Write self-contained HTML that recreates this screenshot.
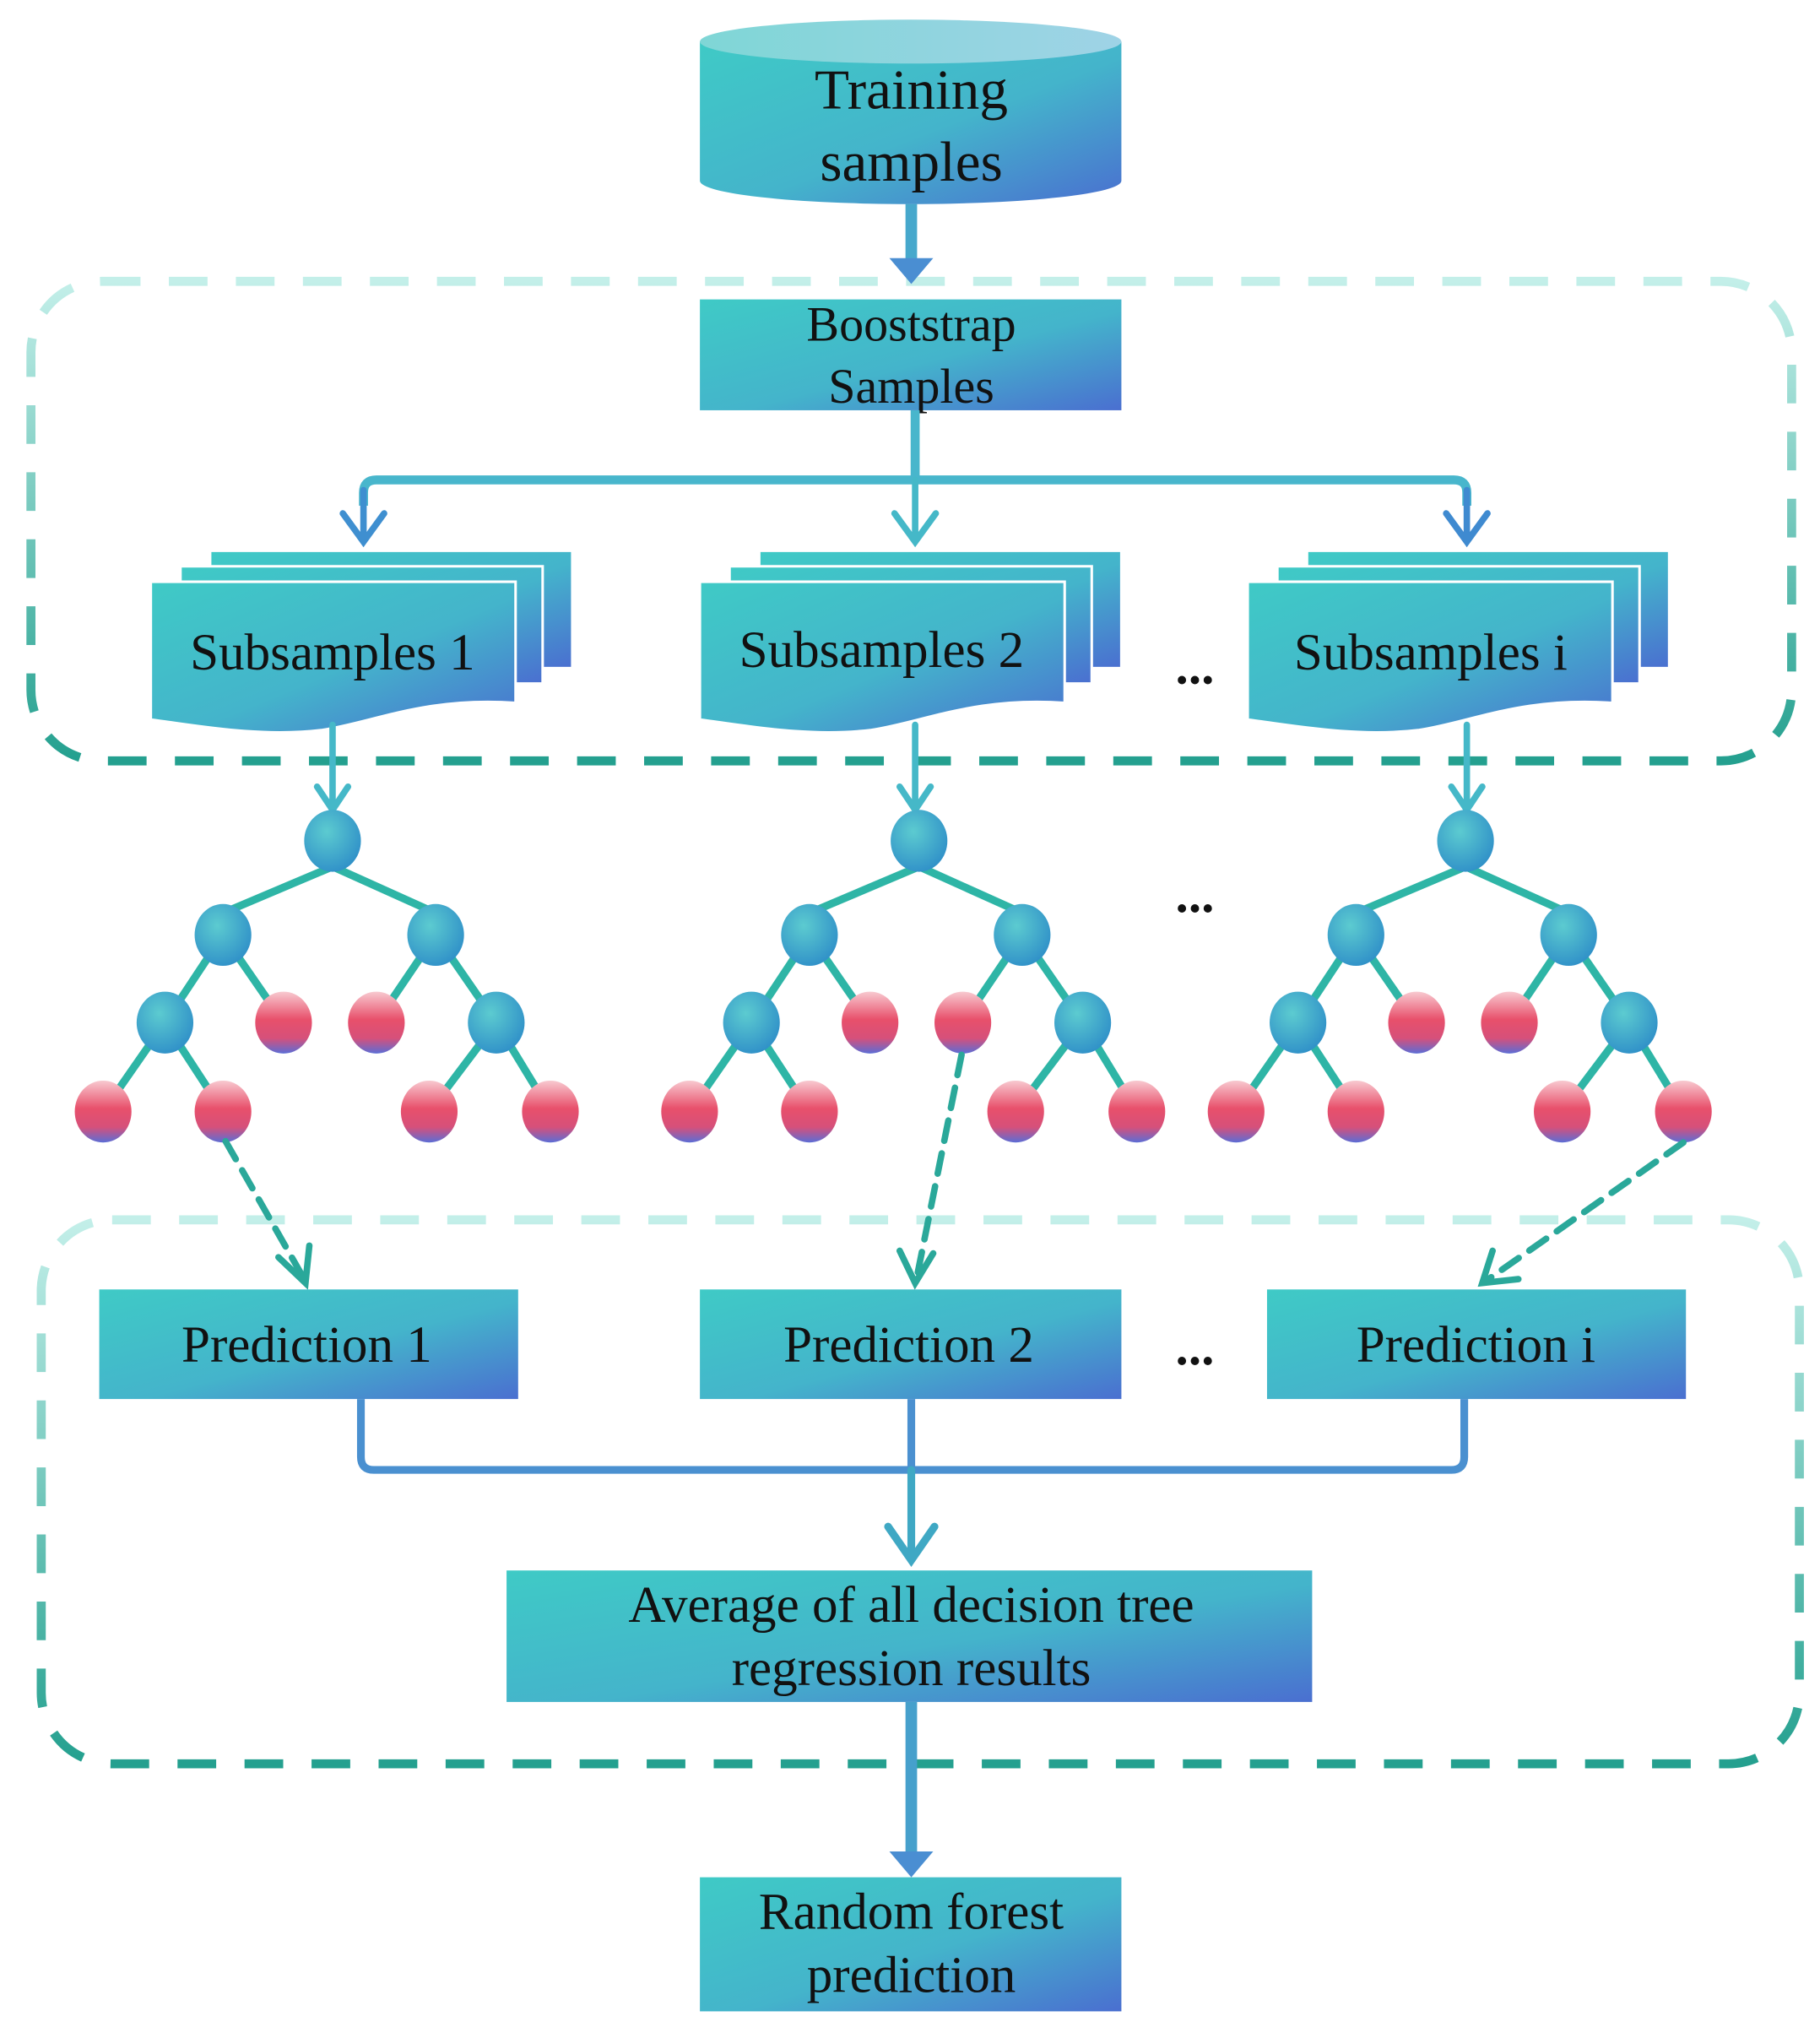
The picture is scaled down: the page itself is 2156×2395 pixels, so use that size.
<!DOCTYPE html>
<html><head><meta charset="utf-8"><style>
html,body{margin:0;padding:0;background:#fff}
svg{display:block}
text{font-family:"Liberation Serif",serif;fill:#111;text-anchor:middle}
</style></head><body>
<svg width="2156" height="2395" viewBox="0 0 1412 1568" xmlns="http://www.w3.org/2000/svg">
<defs>
<linearGradient id="g" x1="0" y1="0" x2="1" y2="1">
<stop offset="0" stop-color="#3fcac6"/><stop offset="0.55" stop-color="#44b4cb"/><stop offset="1" stop-color="#4a6fd0"/></linearGradient>
<linearGradient id="cyl" x1="0" y1="0" x2="1" y2="0">
<stop offset="0" stop-color="#7fd6d6"/><stop offset="1" stop-color="#9fd3e6"/></linearGradient>
<radialGradient id="bn" cx="0.4" cy="0.35" r="0.7">
<stop offset="0" stop-color="#5ccbd0"/><stop offset="1" stop-color="#2f8fc8"/></radialGradient>
<linearGradient id="rn" x1="0" y1="0" x2="0" y2="1">
<stop offset="0" stop-color="#f8c9d0"/><stop offset="0.45" stop-color="#e8506b"/><stop offset="0.75" stop-color="#d6507a"/><stop offset="1" stop-color="#5b6dd6"/></linearGradient>
<linearGradient id="dash" x1="0" y1="0" x2="0" y2="1">
<stop offset="0" stop-color="#c3efe9"/><stop offset="1" stop-color="#24a08f"/></linearGradient>
</defs>

<rect x="24" y="218" width="1366" height="372" rx="55" fill="none" stroke="url(#dash)" stroke-width="7" stroke-dasharray="30 22"/>
<rect x="32" y="946" width="1364" height="422" rx="55" fill="none" stroke="url(#dash)" stroke-width="7" stroke-dasharray="30 22"/>

<path d="M543,32 V140 A163,18 0 0 0 870,140 V32 Z" fill="url(#g)"/>
<ellipse cx="706.5" cy="32" rx="163.5" ry="17" fill="url(#cyl)"/>
<text x="707" y="84" font-size="44">Training</text>
<text x="707" y="140" font-size="44">samples</text>

<line x1="707" y1="158" x2="707" y2="205" stroke="#46a8cc" stroke-width="9"/>
<path d="M690,200 L724,200 L707,220 Z" fill="#4a8ed2"/>

<rect x="543" y="232" width="327" height="86" fill="url(#g)"/>
<text x="707" y="264" font-size="38">Booststrap</text>
<text x="707" y="312" font-size="38">Samples</text>

<path d="M710,318 V372 M282,392 V382 Q282,372 292,372 H1128 Q1138,372 1138,382 V392" fill="none" stroke="#48b6cc" stroke-width="7"/>
<g fill="none" stroke-width="5" stroke-linecap="round">
<path d="M282,380 V420 M266,398 L282,420 L298,398" stroke="#3f8fd0"/>
<path d="M710,372 V420 M694,398 L710,420 L726,398" stroke="#45b8c8"/>
<path d="M1138,380 V420 M1122,398 L1138,420 L1154,398" stroke="#3f8ad0"/>
</g>

<g id="st">
<path d="M163,427 H444 V518 H163 Z" fill="url(#g)" stroke="#fff" stroke-width="2"/>
<path d="M140,439 H421 V530 H140 Z" fill="url(#g)" stroke="#fff" stroke-width="2"/>
<path d="M117,451 H400 V545 C330,540 290,560 250,566 C200,572 150,562 117,558 Z" fill="url(#g)" stroke="#fff" stroke-width="2"/>
</g>
<use href="#st" x="426"/>
<use href="#st" x="851"/>
<text x="258" y="519" font-size="40">Subsamples 1</text>
<text x="684" y="517" font-size="40">Subsamples 2</text>
<text x="1110" y="519" font-size="40">Subsamples i</text>
<text x="927" y="530" font-size="40" font-weight="bold">...</text>

<g fill="none" stroke="#45b8c8" stroke-width="5" stroke-linecap="round">
<path d="M258,562 V628 M246,610 L258,628 L270,610"/>
<path d="M710,562 V628 M698,610 L710,628 L722,610"/>
<path d="M1138,562 V628 M1126,610 L1138,628 L1150,610"/>
</g>

<g id="tree" stroke="#2eb5a6" stroke-width="6" fill="none">
<path d="M258,672 L173,708 M258,672 L338,708"/>
<path d="M173,725 L128,793 M173,725 L220,793 M338,725 L292,793 M338,725 L385,793"/>
<path d="M128,793 L80,862 M128,793 L173,862 M385,793 L333,862 M385,793 L427,862"/>
<g stroke="none">
<ellipse cx="258" cy="652" rx="22" ry="24" fill="url(#bn)"/>
<ellipse cx="173" cy="725" rx="22" ry="24" fill="url(#bn)"/>
<ellipse cx="338" cy="725" rx="22" ry="24" fill="url(#bn)"/>
<ellipse cx="128" cy="793" rx="22" ry="24" fill="url(#bn)"/>
<ellipse cx="385" cy="793" rx="22" ry="24" fill="url(#bn)"/>
<ellipse cx="220" cy="793" rx="22" ry="24" fill="url(#rn)"/>
<ellipse cx="292" cy="793" rx="22" ry="24" fill="url(#rn)"/>
<ellipse cx="80" cy="862" rx="22" ry="24" fill="url(#rn)"/>
<ellipse cx="173" cy="862" rx="22" ry="24" fill="url(#rn)"/>
<ellipse cx="333" cy="862" rx="22" ry="24" fill="url(#rn)"/>
<ellipse cx="427" cy="862" rx="22" ry="24" fill="url(#rn)"/>
</g></g>
<use href="#tree" x="455"/>
<use href="#tree" x="879"/>
<text x="927" y="707" font-size="40" font-weight="bold">...</text>

<g stroke="#2aa89a" stroke-width="5" fill="none" stroke-linecap="round">
<g stroke-dasharray="16 10">
<line x1="175" y1="885" x2="236" y2="992"/>
<line x1="746" y1="818" x2="711" y2="992"/>
<line x1="1306" y1="886" x2="1152" y2="994"/>
</g>
<path d="M216,975 L237,995 L240,966"/>
<path d="M698,970 L710,995 L724,972"/>
<path d="M1158,970 L1150,995 L1178,992"/>
</g>

<rect x="77" y="1000" width="325" height="85" fill="url(#g)"/>
<rect x="543" y="1000" width="327" height="85" fill="url(#g)"/>
<rect x="983" y="1000" width="325" height="85" fill="url(#g)"/>
<text x="238" y="1056" font-size="40">Prediction 1</text>
<text x="705" y="1056" font-size="40">Prediction 2</text>
<text x="1145" y="1056" font-size="40">Prediction i</text>
<text x="927" y="1058" font-size="40" font-weight="bold">...</text>

<path d="M280,1085 V1130 Q280,1140 290,1140 H1126 Q1136,1140 1136,1130 V1085 M707,1085 V1140" fill="none" stroke="#4a90d0" stroke-width="6"/>
<path d="M707,1140 V1210 M689,1184 L707,1210 L725,1184" fill="none" stroke="#3fa8c4" stroke-width="6" stroke-linecap="round"/>

<rect x="393" y="1218" width="625" height="102" fill="url(#g)"/>
<text x="707" y="1258" font-size="40">Average of all decision tree</text>
<text x="707" y="1307" font-size="40">regression results</text>

<line x1="707" y1="1320" x2="707" y2="1440" stroke="#46a0cc" stroke-width="9"/>
<path d="M690,1436 L724,1436 L707,1456 Z" fill="#4a8ed2"/>

<rect x="543" y="1456" width="327" height="104" fill="url(#g)"/>
<text x="707" y="1496" font-size="40">Random forest</text>
<text x="707" y="1545" font-size="40">prediction</text>
</svg>
</body></html>
